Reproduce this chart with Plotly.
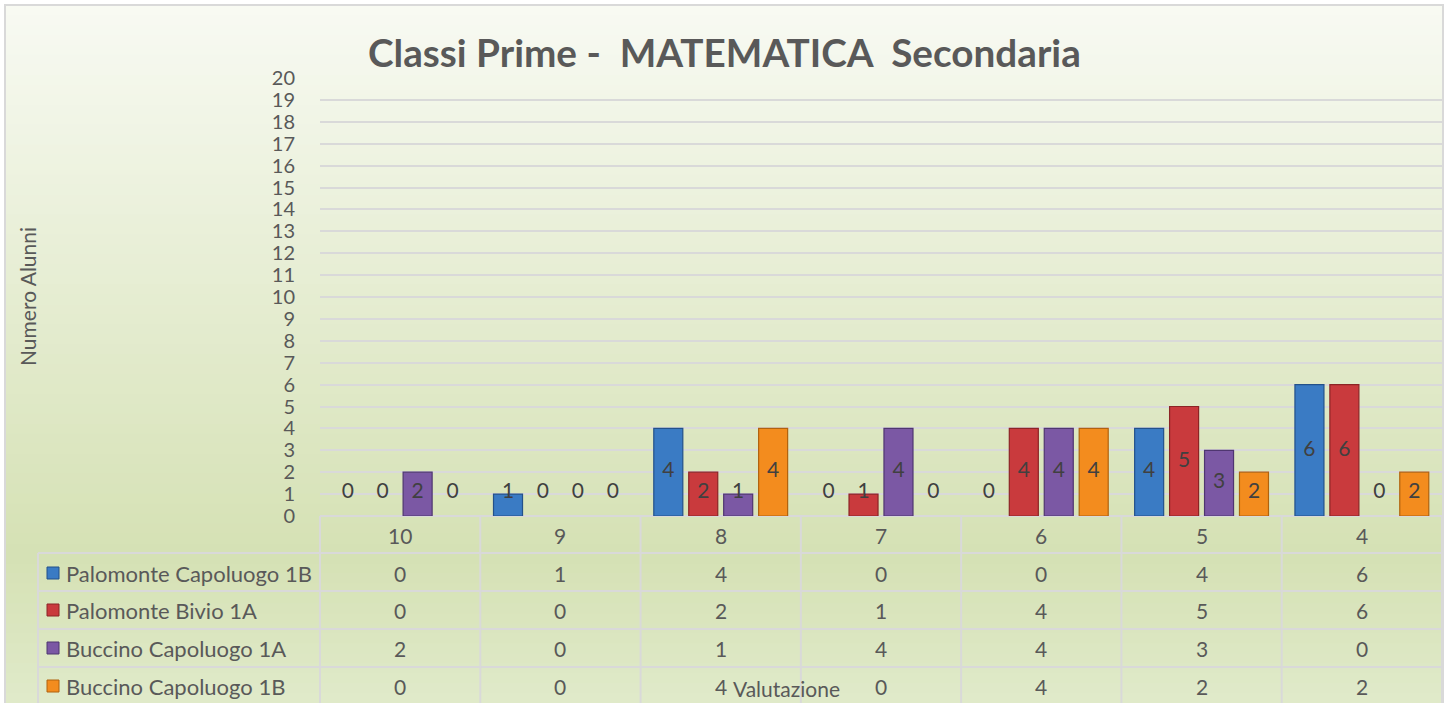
import plotly.graph_objects as go

categories = ["10", "9", "8", "7", "6", "5", "4"]
series_names = ["Palomonte Capoluogo 1B", "Palomonte Bivio 1A", "Buccino Capoluogo 1A", "Buccino Capoluogo 1B"]
palomonte_capoluogo_1b = [0, 1, 4, 0, 0, 4, 6]
palomonte_bivio_1a = [0, 0, 2, 1, 4, 5, 6]
buccino_capoluogo_1a = [2, 0, 1, 4, 4, 3, 0]
buccino_capoluogo_1b = [0, 0, 4, 0, 4, 2, 2]
series_values = [palomonte_capoluogo_1b, palomonte_bivio_1a, buccino_capoluogo_1a, buccino_capoluogo_1b]
y_ticks = list(range(0, 21))

fill_colors = ["#3a7bc4", "#c93a3d", "#7b58a4", "#f38c1e"]
line_colors = ["#23518a", "#8c2426", "#4f3670", "#b0620e"]

FONT = "Lato"
TXT = "#595959"
W, H = 1448, 703
L, R, T, B = 320, 1442, 78, 516  # plot area in px


def px(xp):
    return (xp - L) / (R - L)


def py(yp):
    return (B - yp) / (B - T)


fig = go.Figure()

bar_w = 0.181
step = 0.218
n = len(categories)
for k, (name, vals) in enumerate(zip(series_names, series_values)):
    off = (k - 1.5) * step
    fig.add_trace(go.Bar(
        x=list(range(n)), y=vals, name=name,
        offset=off - bar_w / 2, width=bar_w,
        marker=dict(color=fill_colors[k],
                    line=dict(color=line_colors[k], width=[1.2 if v > 0 else 0 for v in vals])),
        showlegend=False, hoverinfo="y",
    ))
    fig.add_trace(go.Scatter(
        x=[i + off for i in range(n)],
        y=[max(v / 2, 1.05) for v in vals],
        mode="text", text=[str(v) for v in vals],
        textfont=dict(family=FONT, size=21, color="#404040"),
        showlegend=False, hoverinfo="skip", cliponaxis=False,
    ))

shapes = []


def lerp(c1, c2, t):
    return tuple(round(a + (b - a) * t) for a, b in zip(c1, c2))


top_c = (248, 250, 243)
mid_c = (213, 225, 180)
bot_c = (224, 234, 202)
y0, y1, ymid = 5, 703, 555
nb = 70
for i in range(nb):
    ya = y0 + (y1 - y0) * i / nb
    yb = y0 + (y1 - y0) * (i + 1) / nb + 0.8
    yc = (ya + yb) / 2
    if yc < ymid:
        c = lerp(top_c, mid_c, (yc - y0) / (ymid - y0))
    else:
        c = lerp(mid_c, bot_c, (yc - ymid) / (y1 - ymid))
    shapes.append(dict(type="rect", xref="paper", yref="paper", layer="below",
                       x0=px(5), x1=px(1443), y0=py(yb), y1=py(ya),
                       fillcolor="rgb(%d,%d,%d)" % c, line=dict(width=0)))
shapes.append(dict(type="rect", xref="paper", yref="paper", layer="below",
                   x0=px(5), x1=px(1443), y0=py(708), y1=py(5),
                   fillcolor="rgba(0,0,0,0)", line=dict(color="#d9d9d9", width=2)))

grid = "#d9d9d9"
row_lines = [553, 591, 629, 667]
for yl in row_lines:
    shapes.append(dict(type="line", xref="paper", yref="paper", layer="above",
                       x0=px(38), x1=px(1442), y0=py(yl), y1=py(yl),
                       line=dict(color=grid, width=2)))
for i in range(n + 1):
    xl = L + (R - L) * i / n
    shapes.append(dict(type="line", xref="paper", yref="paper", layer="above",
                       x0=px(xl), x1=px(xl), y0=py(516), y1=py(705),
                       line=dict(color=grid, width=2)))
shapes.append(dict(type="line", xref="paper", yref="paper", layer="above",
                   x0=px(38), x1=px(38), y0=py(553), y1=py(705),
                   line=dict(color=grid, width=2)))

annotations = []
TS = 21
header_y = 535
row_y = [573, 610, 648, 686]
for i, c in enumerate(categories):
    annotations.append(dict(x=(i + 0.5) / n, y=py(header_y), xref="paper", yref="paper",
                            text=c, showarrow=False, xanchor="center", yanchor="middle",
                            font=dict(family=FONT, size=TS, color=TXT)))
for k, vals in enumerate(series_values):
    for i, v in enumerate(vals):
        annotations.append(dict(x=(i + 0.5) / n, y=py(row_y[k]), xref="paper", yref="paper",
                                text=str(v), showarrow=False, xanchor="center", yanchor="middle",
                                font=dict(family=FONT, size=TS, color=TXT)))
    annotations.append(dict(x=px(64), y=py(row_y[k]), xref="paper", yref="paper",
                            text=series_names[k], showarrow=False, xanchor="left", yanchor="middle",
                            font=dict(family=FONT, size=22, color=TXT)))
    shapes.append(dict(type="rect", xref="paper", yref="paper", layer="above",
                       x0=px(47), x1=px(59), y0=py(row_y[k] + 6), y1=py(row_y[k] - 6),
                       fillcolor=fill_colors[k], line=dict(color=line_colors[k], width=1)))

annotations.append(dict(x=px(786), y=py(688), xref="paper", yref="paper", text="Valutazione",
                        showarrow=False, xanchor="center", yanchor="middle",
                        font=dict(family=FONT, size=21, color=TXT)))
annotations.append(dict(x=px(27), y=py(296), xref="paper", yref="paper", text="Numero Alunni",
                        showarrow=False, xanchor="center", yanchor="middle", textangle=-90,
                        font=dict(family=FONT, size=21, color=TXT)))
annotations.append(dict(x=px(724), y=py(52), xref="paper", yref="paper",
                        text="<b>Classi Prime -  MATEMATICA  Secondaria</b>",
                        showarrow=False, xanchor="center", yanchor="middle",
                        font=dict(family=FONT, size=38.7, color=TXT)))

fig.update_layout(
    width=W, height=H,
    margin=dict(l=L, r=W - R, t=T, b=H - B, pad=0),
    paper_bgcolor="white", plot_bgcolor="rgba(0,0,0,0)",
    barmode="overlay",
    shapes=shapes, annotations=annotations,
    xaxis=dict(range=[-0.5, n - 0.5], showgrid=False, zeroline=False,
               showticklabels=False, showline=False, fixedrange=True),
    yaxis=dict(range=[0, 20], tickvals=y_ticks, ticktext=[str(t) for t in y_ticks],
               showgrid=True, gridcolor=grid, gridwidth=2,
               zeroline=True, zerolinecolor=grid, zerolinewidth=2,
               showline=False, ticks="", ticklabelstandoff=24,
               tickfont=dict(family=FONT, size=20, color=TXT), fixedrange=True),
    font=dict(family=FONT, color=TXT),
)

fig.write_html("out.html", config={"displayModeBar": False},
               post_script="document.body.style.margin='0';document.body.style.overflow='hidden';")
